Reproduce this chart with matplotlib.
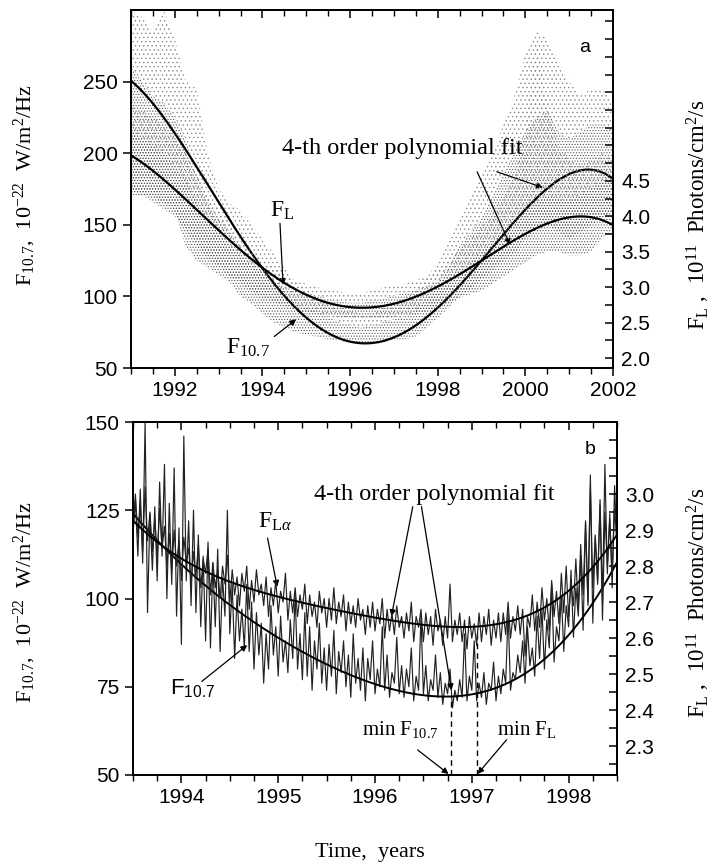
import numpy as np
import matplotlib
matplotlib.use('Agg')
import matplotlib.pyplot as plt
from matplotlib.ticker import MultipleLocator, NullFormatter

plt.rcParams['mathtext.fontset'] = 'custom'
plt.rcParams['mathtext.rm'] = 'Liberation Serif'
plt.rcParams['mathtext.it'] = 'Liberation Serif:italic'
plt.rcParams['mathtext.sf'] = 'Liberation Sans'
plt.rcParams['hatch.linewidth'] = 0.5
SERIF = 'Liberation Serif'
SANS = 'Liberation Sans'

# ---------------- Panel a data (1991-2002) ----------------
t_a = [1991.00, 1991.25, 1991.50, 1991.75, 1992.00, 1992.25, 1992.50, 1992.75,
       1993.00, 1993.25, 1993.50, 1993.75, 1994.00, 1994.25, 1994.50, 1994.75,
       1995.00, 1995.25, 1995.50, 1995.75, 1996.00, 1996.25, 1996.50, 1996.75,
       1997.00, 1997.25, 1997.50, 1997.75, 1998.00, 1998.25, 1998.50, 1998.75,
       1999.00, 1999.25, 1999.50, 1999.75, 2000.00, 2000.25, 2000.50, 2000.75,
       2001.00, 2001.25, 2001.50, 2001.75, 2002.00]
# F10.7 daily-value spread (sfu): core low / core high / outer high
f107_a_lo = [175, 170, 170, 165, 160, 135, 125, 120, 115, 110, 100, 95, 88, 82, 78, 75,
             73, 72, 70, 69, 68, 68, 68, 68, 70, 70, 72, 78, 85, 92, 100, 105,
             112, 118, 125, 130, 140, 145, 150, 145, 140, 145, 150, 155, 160]
f107_a_hi = [260, 250, 240, 235, 225, 210, 185, 165, 155, 145, 135, 125, 118, 110, 102, 95,
             92, 90, 86, 82, 80, 78, 80, 82, 84, 86, 90, 100, 110, 122, 135, 145,
             155, 170, 185, 200, 215, 225, 230, 215, 210, 215, 220, 220, 215]
f107_a_out = [300, 295, 285, 300, 280, 250, 245, 200, 175, 165, 160, 150, 140, 130, 120, 110,
              105, 100, 95, 92, 90, 88, 88, 92, 95, 100, 105, 112, 125, 140, 155, 170,
              185, 200, 220, 240, 270, 285, 280, 265, 250, 240, 245, 245, 235]
# Lyman-alpha daily-value spread (1e11 photons/cm2/s)
fl_a_lo = [4.30, 4.30, 4.20, 4.10, 4.00, 3.80, 3.60, 3.40, 3.30, 3.15, 3.05, 2.95, 2.85, 2.80, 2.72, 2.68,
           2.64, 2.62, 2.60, 2.58, 2.57, 2.56, 2.56, 2.57, 2.58, 2.60, 2.62, 2.66, 2.70, 2.78, 2.85, 2.90,
           2.95, 3.05, 3.15, 3.25, 3.35, 3.45, 3.50, 3.50, 3.45, 3.45, 3.50, 3.70, 3.80]
fl_a_hi = [5.20, 5.10, 5.00, 4.90, 4.70, 4.50, 4.20, 4.00, 3.80, 3.60, 3.45, 3.30, 3.20, 3.10, 3.00, 2.95,
           2.92, 2.88, 2.84, 2.80, 2.78, 2.78, 2.80, 2.84, 2.88, 2.92, 2.96, 3.02, 3.08, 3.16, 3.25, 3.35,
           3.50, 3.65, 3.80, 3.95, 4.10, 4.20, 4.30, 4.25, 4.20, 4.30, 4.40, 4.50, 4.50]
fl_a_out = [5.60, 5.50, 5.40, 5.30, 5.10, 4.90, 4.60, 4.30, 4.10, 3.90, 3.70, 3.50, 3.40, 3.30, 3.15, 3.08,
            3.05, 3.00, 2.96, 2.94, 2.92, 2.92, 2.95, 3.00, 3.02, 3.05, 3.10, 3.15, 3.25, 3.40, 3.55, 3.70,
            3.85, 4.05, 4.30, 4.60, 5.20, 6.50, 5.60, 5.00, 4.80, 4.70, 4.80, 4.90, 4.80]
# 4-th order polynomial fits (yearly)
fit_t_a = [1991, 1992, 1993, 1994, 1995, 1996, 1997, 1998, 1999, 2000, 2001, 2002]
f107_fit_a = [250, 215, 167, 116, 86, 69, 73, 92, 122, 163, 185, 182]
fl_fit_a = [4.83, 4.43, 3.84, 3.19, 2.91, 2.69, 2.79, 3.03, 3.40, 3.74, 3.94, 3.90]

# ---------------- Panel b data (1993.5-1998.5) ----------------
t_b_start, t_b_step = 1993.5, 0.025
f107_b = [118, 128, 112, 131, 110, 150, 96, 124,
          108, 126, 105, 133, 112, 138, 100, 127,
          104, 137, 95, 120, 87, 146, 105, 122,
          98, 125, 96, 118, 92, 112, 88, 116,
          86, 110, 92, 114, 85, 106, 95, 125,
          90, 104, 83, 101, 88, 97, 86, 104,
          85, 99, 80, 96, 84, 93, 76, 90,
          80, 98, 84, 92, 78, 95, 82, 88,
          79, 94, 83, 101, 80, 90, 77, 96,
          78, 92, 74, 88, 80, 93, 76, 86,
          74, 87, 78, 91, 73, 85, 79, 88,
          75, 84, 72, 90, 76, 83, 74, 86,
          71, 83, 77, 88, 73, 80, 75, 92,
          74, 84, 72, 79, 76, 89, 73, 81,
          72, 80, 75, 86, 71, 78, 74, 95,
          73, 81, 71, 77, 74, 84, 72, 79,
          70, 76, 73, 80, 69, 74, 71, 77,
          72, 90, 71, 78, 74, 88, 71, 76,
          72, 79, 70, 76, 74, 82, 71, 78,
          73, 80, 76, 96, 74, 79, 77, 84,
          79, 88, 76, 92, 81, 86, 78, 95,
          83, 97, 80, 94, 86, 104, 82, 92,
          88, 101, 85, 98, 92, 108, 89, 103,
          95, 112, 91, 122, 98, 135, 93, 118,
          104, 128, 99, 138, 107, 124, 103, 132, 115]
fl_b = [2.90, 3.00, 2.88, 2.97, 2.84, 3.02, 2.87, 2.95,
        2.84, 2.93, 2.82, 2.96, 2.85, 2.91, 2.80, 2.89,
        2.78, 2.90, 2.80, 2.87, 2.76, 2.88, 2.81, 2.85,
        2.75, 2.84, 2.77, 2.86, 2.74, 2.82, 2.78, 2.85,
        2.72, 2.81, 2.74, 2.79, 2.71, 2.80, 2.75, 2.83,
        2.70, 2.79, 2.72, 2.77, 2.69, 2.78, 2.73, 2.80,
        2.68, 2.76, 2.70, 2.79, 2.72, 2.75, 2.69, 2.77,
        2.66, 2.74, 2.69, 2.76, 2.67, 2.73, 2.70, 2.78,
        2.65, 2.73, 2.67, 2.74, 2.66, 2.72, 2.68, 2.75,
        2.64, 2.72, 2.66, 2.70, 2.63, 2.73, 2.67, 2.71,
        2.63, 2.71, 2.65, 2.74, 2.64, 2.70, 2.66, 2.72,
        2.62, 2.70, 2.64, 2.69, 2.63, 2.71, 2.65, 2.68,
        2.61, 2.69, 2.63, 2.70, 2.62, 2.68, 2.64, 2.71,
        2.60, 2.68, 2.62, 2.67, 2.61, 2.69, 2.63, 2.66,
        2.60, 2.67, 2.62, 2.70, 2.59, 2.66, 2.63, 2.68,
        2.59, 2.67, 2.61, 2.66, 2.58, 2.68, 2.62, 2.65,
        2.58, 2.66, 2.60, 2.75, 2.59, 2.65, 2.61, 2.67,
        2.59, 2.65, 2.57, 2.66, 2.60, 2.64, 2.58, 2.67,
        2.59, 2.66, 2.61, 2.68, 2.58, 2.65, 2.60, 2.67,
        2.59, 2.67, 2.61, 2.70, 2.60, 2.66, 2.62, 2.69,
        2.61, 2.68, 2.55, 2.66, 2.63, 2.72, 2.62, 2.70,
        2.63, 2.74, 2.65, 2.71, 2.62, 2.76, 2.66, 2.73,
        2.64, 2.78, 2.67, 2.80, 2.66, 2.75, 2.69, 2.82,
        2.68, 2.86, 2.72, 2.92, 2.70, 3.02, 2.74, 2.88,
        2.76, 2.97, 2.65, 2.95, 2.80, 2.93, 2.78, 2.96, 2.86]
fit_t_b = [1993.5, 1994.0, 1994.5, 1995.0, 1995.5, 1996.0, 1996.5, 1997.0, 1997.5, 1998.0, 1998.5]
f107_fit_b = [124, 110, 98, 89, 81, 75.5, 73.5, 73.3, 76, 91, 110]
fl_fit_b = [2.92, 2.837, 2.749, 2.71, 2.68, 2.66, 2.641, 2.636, 2.651, 2.727, 2.89]
min_f107_year = 1996.79
min_fl_year = 1997.05

years_a_ticks = [1992, 1994, 1996, 1998, 2000, 2002]
years_b_ticks = [1994, 1995, 1996, 1997, 1998]


def poly4(tk, vk, tt):
    c = np.polyfit(np.asarray(tk) - tk[0], np.asarray(vk), 4)
    return np.polyval(c, tt - tk[0])


fig = plt.figure(figsize=(7.13, 8.67), dpi=100)
W, H = 713, 867


def rect(l, r, t, b):
    return [l / W, 1 - b / H, (r - l) / W, (b - t) / H]


TICKFS = 15

# =============== Panel a ===============
ax = fig.add_axes(rect(131, 613, 10, 368))
ax2 = ax.twinx()
ax.set_xlim(1991, 2002)
ax.set_ylim(50, 300)
ax2.set_ylim(1.86, 6.91)

ta = np.array(t_a)
ax.fill_between(ta, f107_a_hi, f107_a_out, facecolor='none', edgecolor='#8a8a8a',
                hatch='....', linewidth=0)
ax.fill_between(ta, f107_a_lo, f107_a_hi, facecolor='none', edgecolor='#555555',
                hatch='......', linewidth=0)
ax2.fill_between(ta, fl_a_hi, fl_a_out, facecolor='none', edgecolor='#8a8a8a',
                 hatch='....', linewidth=0)
ax2.fill_between(ta, fl_a_lo, fl_a_hi, facecolor='none', edgecolor='#555555',
                 hatch='......', linewidth=0)

tt = np.linspace(1991, 2002, 400)
ax.plot(tt, poly4(fit_t_a, f107_fit_a, tt), color='black', lw=1.6)
ax2.plot(tt, poly4(fit_t_a, fl_fit_a, tt), color='black', lw=1.6)

ax.set_xticks(years_a_ticks)
ax.xaxis.set_minor_locator(MultipleLocator(0.5))
ax.set_yticks([50, 100, 150, 200, 250])
ra = np.round(np.arange(2.0, 6.9, 0.25), 2)
ax2.set_yticks(ra)
ax2.set_yticklabels(['%.1f' % v if (v <= 4.5 and abs(v * 2 - round(v * 2)) < 1e-6) else ''
                     for v in ra])

arrow_kw = dict(arrowstyle='-|>', color='black', lw=0.9, mutation_scale=9,
                shrinkA=0, shrinkB=0)
ax.text(1997.19, 203, '4-th order polynomial fit', ha='center', va='center',
        family=SERIF, fontsize=17.5)
ax.annotate('', xy=(2000.40, 176), xytext=(1999.35, 187), arrowprops=arrow_kw)
ax.annotate('', xy=(1999.65, 136), xytext=(1998.90, 187), arrowprops=arrow_kw)
ax.text(1994.45, 160, r'F$_\mathrm{L}$', ha='center', va='center', family=SERIF, fontsize=17)
ax.annotate('', xy=(1994.47, 108), xytext=(1994.40, 151), arrowprops=arrow_kw)
ax.text(1993.68, 64, r'F$_{10.7}$', ha='center', va='center', family=SERIF, fontsize=17)
ax.annotate('', xy=(1994.77, 84), xytext=(1994.27, 72), arrowprops=arrow_kw)
ax.text((585 - 131) / 482, 1 - 37 / 358, 'a', transform=ax.transAxes, family=SANS,
        fontsize=14, ha='center', va='center')

# =============== Panel b ===============
bx = fig.add_axes(rect(133, 617, 422, 775))
bx2 = bx.twinx()
bx.set_xlim(1993.5, 1998.5)
bx.set_ylim(50, 150)
bx2.set_ylim(2.22, 3.20)

tb = t_b_start + t_b_step * np.arange(len(f107_b))
bx.plot(tb, f107_b, color='#222222', lw=0.85)
bx2.plot(tb, fl_b, color='#222222', lw=0.85)
ttb = np.linspace(1993.5, 1998.5, 300)
bx.plot(ttb, poly4(fit_t_b, f107_fit_b, ttb), color='black', lw=1.4)
bx2.plot(ttb, poly4(fit_t_b, fl_fit_b, ttb), color='black', lw=1.4)

bx.set_xticks(years_b_ticks)
bx.xaxis.set_minor_locator(MultipleLocator(0.25))
bx.set_yticks([50, 75, 100, 125, 150])
rt = np.round(np.arange(2.25, 3.201, 0.05), 2)
bx2.set_yticks(rt)
bx2.set_yticklabels(['%.1f' % v if (2.29 < v < 3.01 and abs(v * 10 - round(v * 10)) < 1e-6) else ''
                     for v in rt])

bx.text(1996.61, 129.6, '4-th order polynomial fit', ha='center', va='center',
        family=SERIF, fontsize=17.5)
bx.annotate('', xy=(1996.17, 95.0), xytext=(1996.39, 126.0), arrowprops=arrow_kw)
bx.annotate('', xy=(1996.79, 74.0), xytext=(1996.48, 126.0), arrowprops=arrow_kw)
bx.plot([min_f107_year, min_f107_year], [50, 72.5], ls=(0, (4, 3)), color='black', lw=1.0)
bx.plot([min_fl_year, min_fl_year], [50, 91.5], ls=(0, (4, 3)), color='black', lw=1.0)
bx.text(1995.87, 63, r'min F$_{10.7}$', ha='left', va='center', family=SERIF, fontsize=15)
bx.text(1997.26, 63, r'min F$_\mathrm{L}$', ha='left', va='center', family=SERIF, fontsize=15)
bx.annotate('', xy=(min_f107_year - 0.03, 50.3), xytext=(1996.44, 57.1), arrowprops=arrow_kw)
bx.annotate('', xy=(min_fl_year + 0.01, 50.3), xytext=(1997.36, 60.0), arrowprops=arrow_kw)
bx.text(1994.97, 121.7, r'F$_{\mathrm{L}\alpha}$', ha='center', va='center', family=SERIF, fontsize=17)
bx.annotate('', xy=(1994.99, 103.3), xytext=(1994.89, 117.1), arrowprops=arrow_kw)
bx.text(1994.12, 74.6, r'F$_{\mathsf{10.7}}$', ha='center', va='center', family=SANS, fontsize=16)
bx.annotate('', xy=(1994.68, 86.8), xytext=(1994.21, 76.5), arrowprops=arrow_kw)
bx.text((590 - 133) / 484, 1 - (450 - 422) / 353, 'b', transform=bx.transAxes, family=SANS,
        fontsize=14, ha='center', va='center')

# common styling
for a in (ax, bx):
    a.tick_params(axis='x', which='both', direction='out', top=False, labelsize=TICKFS,
                  labelfontfamily=SANS)
    a.tick_params(axis='x', which='major', length=6, width=1.1)
    a.tick_params(axis='x', which='minor', length=4, width=1.0)
    a.tick_params(axis='y', which='both', direction='out', labelsize=TICKFS,
                  labelfontfamily=SANS, length=6, width=1.1)
    for s in a.spines.values():
        s.set_linewidth(1.3)
    sec = a.secondary_xaxis('top')
    sec.set_xticks(a.get_xticks())
    sec.xaxis.set_minor_locator(a.xaxis.get_minor_locator())
    sec.xaxis.set_major_formatter(NullFormatter())
    sec.tick_params(axis='x', which='major', direction='in', length=6, width=1.1)
    sec.tick_params(axis='x', which='minor', direction='in', length=4, width=1.0)
    sec.spines['top'].set_linewidth(1.3)

for a in (ax2, bx2):
    a.tick_params(axis='y', which='both', direction='in', labelsize=TICKFS,
                  labelfontfamily=SANS, length=6, width=1.1, pad=6)
    for s in a.spines.values():
        s.set_linewidth(1.3)

# axis labels
ylab_l = r'F$_{10.7}$,  10$^{-22}$  W/m$^{2}$/Hz'
ylab_r = r'F$_\mathrm{L}$ ,  10$^{11}$  Photons/cm$^{2}$/s'
fig.text(25 / W, 1 - 185 / H, ylab_l, rotation=90, ha='center', va='center', family=SERIF, fontsize=16)
fig.text(25 / W, 1 - 602 / H, ylab_l, rotation=90, ha='center', va='center', family=SERIF, fontsize=16)
fig.text(698 / W, 1 - 215 / H, ylab_r, rotation=90, ha='center', va='center', family=SERIF, fontsize=16.5)
fig.text(698 / W, 1 - 603 / H, ylab_r, rotation=90, ha='center', va='center', family=SERIF, fontsize=16.5)
fig.text(370 / W, 1 - 853 / H, 'Time,  years', ha='center', va='center', family=SERIF, fontsize=16)

fig.savefig('out.png', dpi=100)
